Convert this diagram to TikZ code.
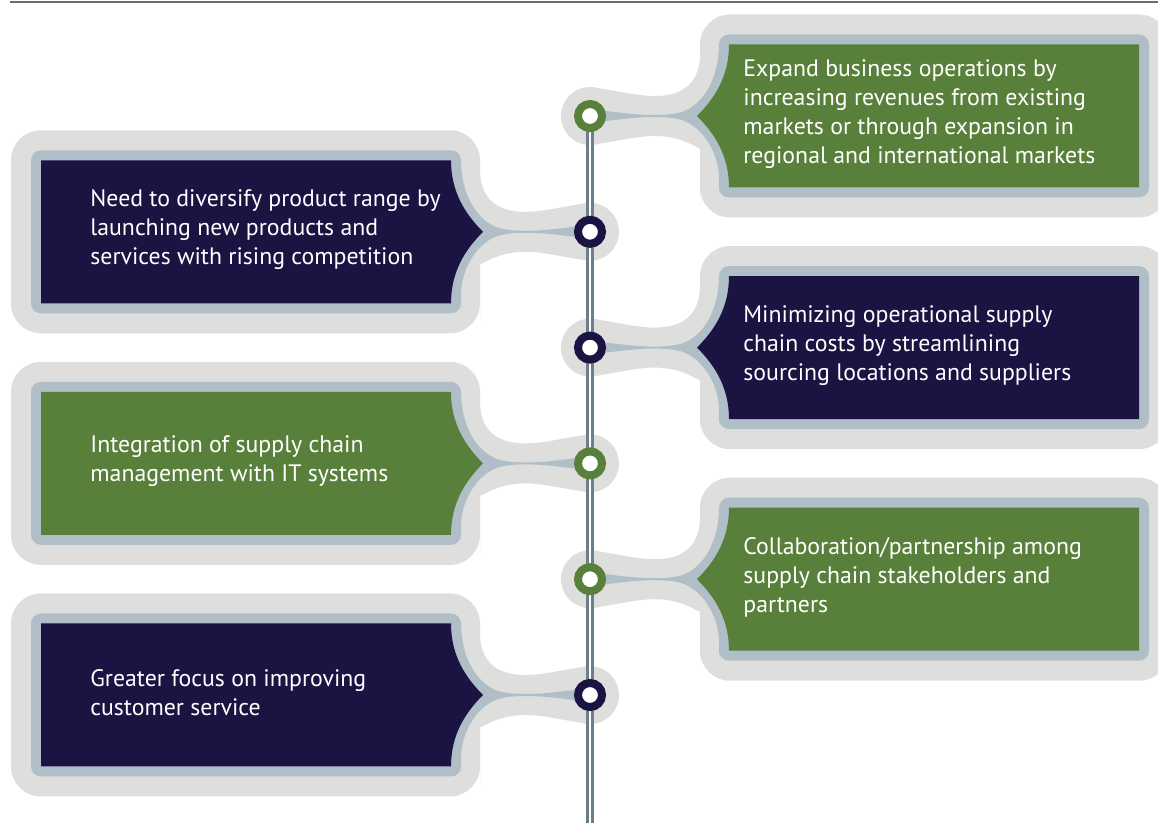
\documentclass[tikz,border=0pt]{standalone}
\usepackage{fontspec}
\setmainfont{PT Sans}
\usepackage{tikz}
\usetikzlibrary{positioning}
\definecolor{ink}{RGB}{27,19,66}
\definecolor{leaf}{RGB}{89,128,58}
\definecolor{steel}{RGB}{176,190,200}
\definecolor{mist}{RGB}{222,222,220}
\definecolor{slate}{RGB}{108,126,138}

\begin{document}
\begin{tikzpicture}[
	x=0.5pt, y=-0.5pt,
	ring/.style={
		circle,
		fill=white,
		draw=#1,
		line width=4pt,
		inner sep=0pt,
		minimum size=12pt
	},
	note/.style={
		anchor=west,
		align=left,
		text=white,
		inner sep=0pt,
		font=\fontsize{11.9}{14.5}\selectfont
	},
	spine/.style={
		draw=slate,
		double=white,
		line width=1.35pt,
		double distance=1.35pt
	},
	]
	\useasboundingbox (0,0) rectangle (1158,823);
	\clip (0,0) rectangle (1158,823);
	\draw[line width=1pt, black!58] (10,2.5) -- (1158,2.5);
	
	\foreach \i/\y/\s/\col/\tx/\txt in {
		1/116/1/leaf/743/{Expand business operations by\\increasing revenues from existing\\markets or through expansion in\\regional and international markets},
		2/231.8/-1/ink/90/{Need to diversify product range by\\launching new products and\\services with rising competition},
		3/347.6/1/ink/743/{Minimizing operational supply\\chain costs by streamlining\\sourcing locations and suppliers},
		4/463.4/-1/leaf/90/{Integration of supply chain\\management with IT systems},
		5/579.2/1/leaf/743/{Collaboration/partnership among\\supply chain stakeholders and\\partners},
		6/695/-1/ink/90/{Greater focus on improving\\customer service}}{
		\coordinate (c\i) at (590,\y);
		\begin{scope}[shift={(c\i)}, xscale=\s]
			\fill[mist] (0,0) circle[radius=14.5pt];
			\fill[mist] (0,-29) .. controls (25,-26) and (45,-20) .. (65,-20) .. controls (95,-20) and (110,-35) .. (110,-62) [rounded corners=15pt] -- (110,-101.5) -- (579,-101.5) -- (579,101.5) -- (110,101.5) -- (110,62) [sharp corners] .. controls (110,35) and (95,20) .. (65,20) .. controls (45,20) and (25,26) .. (0,29) -- cycle;
			\fill[steel] (0,-7) .. controls (25,-4) and (45,-1) .. (63,-1) .. controls (75,-1) and (82,-1.5) .. (92,-4) .. controls (115,-12) and (129,-40) .. (129,-72) [rounded corners=5pt] -- (129,-81.5) -- (559,-81.5) -- (559,81.5) -- (129,81.5) -- (129,72) [sharp corners] .. controls (129,40) and (115,12) .. (92,4) .. controls (82,1.5) and (75,1) .. (63,1) .. controls (45,1) and (25,4) .. (0,7) -- cycle;
			\fill[\col] (107,0) .. controls (125,-18) and (139,-40) .. (139,-71.5) -- (549,-71.5) -- (549,71.5) -- (139,71.5) .. controls (139,40) and (125,18) .. (107,0) -- cycle;
		\end{scope}
		\node[note] (t\i) at (\tx,\y-2) {\txt};
	}
	
	\coordinate (foot) at (590,823);
	\draw[spine] (c1) -- (foot);
	\foreach \i/\col in {1/leaf,2/ink,3/ink,4/leaf,5/leaf,6/ink}
		\node[ring=\col] (r\i) at (c\i) {};
\end{tikzpicture}
\end{document}
